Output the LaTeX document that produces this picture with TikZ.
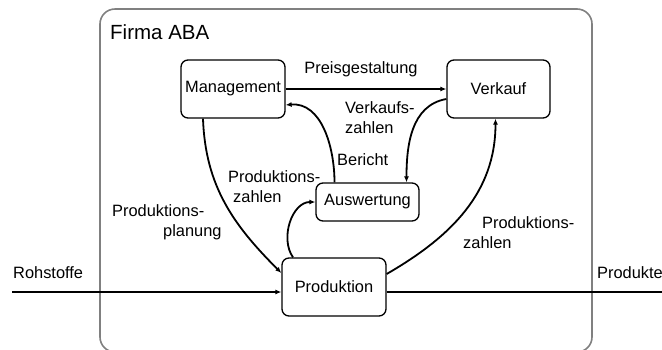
\documentclass[tikz,border=0pt]{standalone}
\usepackage{fontspec}
\setmainfont{Liberation Sans}
\usepackage{tikz}
\usetikzlibrary{arrows.meta}
\usepackage{xcolor}
\definecolor{framegray}{RGB}{128,128,128}
\tikzset{
  proc/.style={draw=black, line width=1.3pt, rounded corners=7pt, inner sep=0pt, minimum height=58pt, minimum width=104pt},
  flow/.style={draw=black, line width=1.8pt, -{Latex[length=6pt,width=5pt]}},
  lbl/.style={inner sep=0pt, align=left, anchor=west}
}
\begin{document}
\begin{tikzpicture}[x=1pt, y=-1pt, font=\fontsize{16.4}{20}\selectfont]
  \useasboundingbox (0,0) rectangle (662,349);
  \draw[framegray, line width=1.6pt, rounded corners=15pt] (100,9) rectangle (592,352);
  \node[lbl, font=\fontsize{20.5}{24}\selectfont] (firma) at (110,32) {Firma ABA};
  % Abteilungen
  \node[proc] (mgmt) at (233,89) {Management};
  \node[proc, minimum width=103pt] (verkauf) at (498.5,89) {Verkauf};
  \node[proc, minimum width=103pt, minimum height=38pt] (ausw) at (367.5,202) {Auswertung};
  \node[proc] (prod) at (334,287) {Produktion};
  \coordinate (ein) at (12,292);
  \coordinate (aus) at (662,292);
  % Fluesse
  \draw[flow] (mgmt.east) -- (verkauf.west);
  \draw[flow] ([yshift=-10pt]verkauf.west) to[out=190, in=90] ([xshift=39pt]ausw.north);
  \draw[flow] ([xshift=-33pt]ausw.north) to[out=90, in=5] ([yshift=-16pt]mgmt.east);
  \draw[flow] ([xshift=-41pt]prod.north) to[out=125, in=180] (ausw.west);
  \draw[flow] ([xshift=-30pt]mgmt.south) to[out=272, in=135] ([yshift=14pt]prod.west);
  \draw[flow] ([yshift=13pt]prod.east) to[out=30, in=270] ([xshift=-3pt]verkauf.south);
  \draw[flow] (ein) -- ([yshift=-5pt]prod.west);
  \draw[line width=1.8pt] ([yshift=-5pt]prod.east) -- (aus);
  % Beschriftungen
  \node[inner sep=0pt] (preis) at (361,69) {Preisgestaltung};
  \node[lbl] (vzahlen) at (345,118) {Verkaufs-\\zahlen};
  \node[lbl] (bericht) at (337,160) {Bericht};
  \node[lbl] (pzahlen) at (228,187) {Produktions-\\\hspace*{5pt}zahlen};
  \node[lbl] (planung) at (112,222) {Produktions-\\\hspace*{51pt}planung};
  \node[lbl] (pzahlenv) at (463,233) {\hspace*{19pt}Produktions-\\zahlen};
  \node[lbl] (roh) at (13,273) {Rohstoffe};
  \node[lbl] (produkte) at (597,273) {Produkte};
\end{tikzpicture}
\end{document}
